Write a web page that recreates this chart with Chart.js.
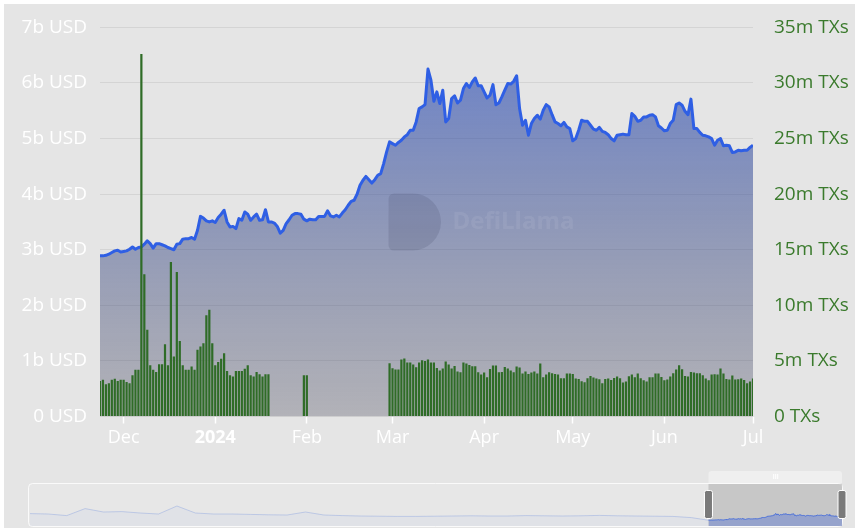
<!DOCTYPE html>
<html>
<head>
<meta charset="utf-8">
<script src="https://cdn.jsdelivr.net/npm/chart.js@4.4.1/dist/chart.umd.min.js"></script>
<style>
  html, body { margin: 0; padding: 0; background: #ffffff; }
  #panel { position: absolute; left: 4px; top: 4px; width: 851px; height: 524px; background: #e5e5e5; }
  #tvlChart { position: absolute; left: 0; top: -5px; }
  #navChart { position: absolute; left: 0; top: 468px; }
</style>
</head>
<body>
<div id="panel"></div>
<canvas id="tvlChart" width="859" height="475"></canvas>
<canvas id="navChart" width="859" height="62"></canvas>
<script>
// daily points, 23 Nov 2023 .. 1 Jul 2024 (index = day)
const monthTicks = [8, 39, 70, 99, 130, 160, 191, 221];
const monthLabels = ['Dec', '2024', 'Feb', 'Mar', 'Apr', 'May', 'Jun', 'Jul'];

// TVL, billions USD
const tvl = [
  2.89, 2.89, 2.90, 2.92, 2.95, 2.98, 2.99, 2.96, 2.97, 2.98,
  3.01, 3.05, 3.01, 3.04, 3.05, 3.10, 3.16, 3.11, 3.03, 3.11,
  3.11, 3.09, 3.07, 3.04, 3.02, 3.00, 3.10, 3.11, 3.19, 3.20,
  3.20, 3.22, 3.19, 3.35, 3.60, 3.57, 3.52, 3.50, 3.52, 3.49,
  3.58, 3.64, 3.71, 3.50, 3.41, 3.42, 3.38, 3.56, 3.53, 3.68,
  3.64, 3.53, 3.59, 3.64, 3.53, 3.54, 3.72, 3.50, 3.50, 3.48,
  3.42, 3.30, 3.35, 3.47, 3.54, 3.62, 3.65, 3.65, 3.64, 3.55,
  3.52, 3.55, 3.54, 3.54, 3.60, 3.60, 3.60, 3.70, 3.61, 3.59,
  3.62, 3.59, 3.66, 3.72, 3.80, 3.87, 3.89, 4.00, 4.16, 4.25,
  4.32, 4.26, 4.20, 4.26, 4.34, 4.37, 4.55, 4.76, 4.94, 4.91,
  4.88, 4.93, 4.97, 5.03, 5.07, 5.15, 5.15, 5.30, 5.54, 5.57,
  5.61, 6.25, 6.05, 5.67, 5.84, 5.63, 5.87, 5.30, 5.36, 5.72,
  5.77, 5.64, 5.69, 5.90, 5.99, 5.92, 6.02, 6.09, 5.95, 5.95,
  5.84, 5.73, 5.78, 5.97, 5.61, 5.64, 5.75, 5.87, 5.99, 5.98,
  6.03, 6.13, 5.54, 5.24, 5.33, 5.06, 5.27, 5.36, 5.42, 5.35,
  5.51, 5.61, 5.57, 5.43, 5.30, 5.27, 5.23, 5.29, 5.21, 5.18,
  4.96, 5.00, 5.15, 5.33, 5.31, 5.31, 5.24, 5.17, 5.15, 5.20,
  5.13, 5.11, 5.07, 5.00, 4.96, 5.06, 5.07, 5.08, 5.07, 5.07,
  5.45, 5.40, 5.31, 5.33, 5.39, 5.39, 5.42, 5.43, 5.39, 5.23,
  5.19, 5.14, 5.15, 5.27, 5.33, 5.61, 5.64, 5.60, 5.49, 5.43,
  5.71, 5.18, 5.18, 5.11, 5.06, 5.05, 5.03, 5.00, 4.88, 4.97,
  5.00, 4.87, 4.88, 4.87, 4.75, 4.76, 4.79, 4.78, 4.79, 4.79,
  4.84, 4.88
];

// transactions, millions (null = no data that day)
const txs = [
  3.2, 3.3, 2.9, 3.0, 3.3, 3.4, 3.2, 3.3, 3.3, 3.1,
  3.0, 3.7, 4.2, 4.2, 32.6, 12.8, 7.8, 4.6, 4.2, 4.0,
  4.7, 4.7, 6.5, 4.6, 13.9, 5.4, 13.0, 6.8, 4.6, 4.2,
  4.2, 4.5, 4.2, 6.0, 6.3, 6.6, 9.1, 9.6, 6.6, 4.6,
  4.9, 5.2, 5.7, 4.1, 3.7, 3.6, 4.1, 4.1, 4.1, 4.3,
  4.6, 3.7, 3.6, 4.0, 3.8, 3.6, 3.8, 3.8,
  null, null, null, null, null, null, null, null, null, null, null,
  3.7, 3.7,
  null, null, null, null, null, null, null, null, null,
  null, null, null, null, null, null, null, null, null,
  null, null, null, null, null, null, null, null, null,
  4.79, 4.34, 4.22, 4.22, 5.12, 5.21, 4.85, 4.85, 4.67, 4.43,
  4.85, 5.06, 5.00, 5.12, 4.85, 4.85, 4.37, 4.13, 4.31, 4.94,
  4.67, 4.31, 4.55, 4.04, 3.98, 4.85, 4.76, 4.64, 4.52, 4.52,
  3.98, 3.77, 3.95, 3.53, 4.28, 4.58, 4.58, 3.98, 4.01, 4.46,
  4.31, 4.13, 3.98, 4.49, 4.40, 3.86, 4.04, 3.83, 3.95, 4.04,
  3.86, 4.76, 3.53, 3.77, 3.98, 3.89, 3.83, 3.77, 3.44, 3.44,
  3.86, 3.86, 3.83, 3.41, 3.38, 3.17, 3.08, 3.44, 3.65, 3.50,
  3.41, 3.35, 2.99, 3.38, 3.41, 3.29, 3.47, 3.59, 3.44, 3.05,
  3.14, 3.62, 3.77, 3.53, 3.86, 3.44, 3.26, 3.14, 3.53, 3.53,
  3.86, 3.86, 3.56, 3.26, 3.32, 3.59, 3.89, 4.22, 4.61, 4.25,
  3.65, 3.59, 4.01, 3.95, 3.89, 3.89, 3.71, 3.41, 3.26, 3.77,
  3.80, 3.77, 4.31, 3.86, 3.38, 3.32, 3.68, 3.32, 3.35, 3.41,
  3.29, 2.99, 3.14, 3.41
];

// longer TVL history for the range navigator, one value a month (b USD)
const navHistory = [
  6.2, 6.0, 5.2, 8.7, 7.0, 7.2, 6.5, 6.0, 10.0, 6.5,
  6.0, 6.0, 5.8, 5.6, 5.5, 7.0, 5.5, 5.2, 5.0, 4.9,
  4.8, 4.8, 4.9, 5.0, 5.1, 5.0, 5.0, 5.2, 5.1, 5.0,
  5.1, 5.3, 5.1, 5.0, 4.9, 4.8, 4.2
];
const navOffset = 1123; // day where the zoomed range starts

const FONT = '"Open Sans", "Noto Sans", sans-serif';

// logo + name in the middle of the plot
const watermark = {
    id: 'watermark',
    afterDatasetsDraw(chart) {
        const a = chart.chartArea;
        const c = chart.ctx;
        const cx = (a.left + a.right) / 2;
        const lx = cx - 38, ly = a.top + 166, h = 57;
        c.save();
        c.fillStyle = 'rgba(60,66,95,0.17)';
        c.beginPath();
        c.moveTo(lx + 6, ly);
        c.lineTo(lx + 24, ly);
        c.arc(lx + 24, ly + h / 2, h / 2, -Math.PI / 2, Math.PI / 2);
        c.lineTo(lx + 6, ly + h);
        c.quadraticCurveTo(lx, ly + h, lx, ly + h - 6);
        c.lineTo(lx, ly + 6);
        c.quadraticCurveTo(lx, ly, lx + 6, ly);
        c.fill();
        c.fillStyle = 'rgba(255,255,255,0.07)';
        c.font = 'bold 24px ' + FONT;
        c.textBaseline = 'middle';
        c.fillText('DefiLlama', lx + 64, ly + 29);
        c.restore();
    }
};

new Chart(document.getElementById('tvlChart').getContext('2d'), {
    type: 'bar',
    data: {
        datasets: [
            {
                type: 'bar', label: 'Transactions', yAxisID: 'yTx', order: 0,
                data: txs.map((v, i) => ({ x: i, y: v })),
                backgroundColor: '#2f6c27', barPercentage: 1, categoryPercentage: 0.75
            },
            {
                type: 'line', label: 'TVL', yAxisID: 'yTvl', order: 1,
                data: tvl.map((v, i) => ({ x: i, y: v })),
                borderColor: '#2f5fe4', borderWidth: 3, pointRadius: 0, tension: 0,
                borderJoinStyle: 'round', fill: 'origin',
                backgroundColor: c => {
                    const a = c.chart.chartArea;
                    if (!a) return 'rgba(30,70,180,0.5)';
                    const g = c.chart.ctx.createLinearGradient(0, a.top, 0, a.bottom);
                    g.addColorStop(0, 'rgba(30,70,190,0.64)');
                    g.addColorStop(1, 'rgba(60,60,80,0.3)');
                    return g;
                }
            }
        ]
    },
    options: {
        responsive: false, animation: false, events: [],
        layout: { padding: { top: 22, left: 0, right: 0, bottom: 0 } },
        plugins: { legend: { display: false }, tooltip: { enabled: false } },
        scales: {
            x: {
                type: 'linear', min: 0, max: 221, offset: false,
                grid: { offset: false, drawOnChartArea: false, drawTicks: true, tickLength: 7, tickColor: '#ffffff', tickWidth: 1.5 },
                border: { display: false },
                afterBuildTicks: s => { s.ticks = monthTicks.map(v => ({ value: v })); },
                afterFit: s => { s.height = 53.5; },
                ticks: {
                    color: '#ffffff', padding: 4, maxRotation: 0, autoSkip: false,
                    font: c => ({ family: FONT, size: 18, weight: monthLabels[c.index] === '2024' ? 'bold' : 'normal' }),
                    callback: (v, i) => monthLabels[i]
                }
            },
            yTvl: {
                position: 'left', min: 0, max: 7, z: 1,
                grid: { color: 'rgba(0,0,0,0.07)', drawTicks: false },
                border: { display: false },
                afterFit: s => { s.width = 100; },
                ticks: {
                    stepSize: 1, color: '#ffffff', padding: 13, font: { family: FONT, size: 19 },
                    callback: v => v === 0 ? '0 USD' : v + 'b USD'
                }
            },
            yTx: {
                position: 'right', min: 0, max: 35,
                grid: { drawOnChartArea: false, drawTicks: false },
                border: { display: false },
                afterFit: s => { s.width = 106; },
                ticks: {
                    stepSize: 5, color: '#3a7a2c', padding: 21, font: { family: FONT, size: 19 },
                    callback: v => v === 0 ? '0 TXs' : v + 'm TXs'
                }
            }
        }
    },
    plugins: [watermark]
});

// range navigator frame, selection and handles
const navFrame = {
    id: 'navFrame',
    beforeDatasetsDraw(chart) {
        const a = chart.chartArea, c = chart.ctx;
        const x0 = chart.scales.x.getPixelForValue(navOffset);
        c.save();
        c.fillStyle = 'rgba(255,255,255,0.1)';
        c.strokeStyle = 'rgba(255,255,255,0.8)';
        c.lineWidth = 1;
        c.beginPath();
        c.roundRect(a.left - 1.5, a.top + 0.5, a.right - a.left + 2, a.bottom - a.top, 4);
        c.fill();
        c.stroke();
        c.fillStyle = 'rgba(160,160,160,0.45)';
        c.fillRect(x0, a.top + 1, a.right - x0, a.bottom - a.top - 1);
        c.restore();
    },
    afterDatasetsDraw(chart) {
        const a = chart.chartArea, c = chart.ctx;
        const x0 = chart.scales.x.getPixelForValue(navOffset);
        const x1 = a.right;
        const my = (a.top + a.bottom) / 2;
        c.save();
        c.fillStyle = 'rgba(240,240,240,0.9)';
        c.beginPath();
        c.roundRect(x0, a.top - 12, x1 - x0, 12, [3, 3, 0, 0]);
        c.fill();
        c.strokeStyle = '#ffffff';
        c.lineWidth = 1;
        const mx = (x0 + x1) / 2;
        [-2, 0, 2].forEach(d => {
            c.beginPath();
            c.moveTo(mx + d + 0.5, a.top - 9);
            c.lineTo(mx + d + 0.5, a.top - 4);
            c.stroke();
        });
        [x0, x1].forEach(x => {
            c.fillStyle = '#7a7a7a';
            c.beginPath();
            c.roundRect(x - 4, my - 14, 8, 28, 2);
            c.fill();
            c.stroke();
        });
        c.restore();
    }
};

new Chart(document.getElementById('navChart').getContext('2d'), {
    type: 'line',
    data: {
        datasets: [
            {
                data: navHistory.map((v, m) => ({ x: m * 30.4, y: v })).concat([{ x: navOffset, y: tvl[0] }]),
                borderColor: 'rgba(140,165,225,0.45)', borderWidth: 1, pointRadius: 0,
                fill: 'origin', backgroundColor: 'rgba(160,180,230,0.1)'
            },
            {
                data: tvl.map((v, i) => ({ x: navOffset + i, y: v })),
                borderColor: '#4a6fd8', borderWidth: 1, pointRadius: 0,
                fill: 'origin', backgroundColor: 'rgba(90,120,210,0.45)'
            }
        ]
    },
    options: {
        responsive: false, animation: false, events: [],
        layout: { padding: { left: 30, right: 17, top: 15, bottom: 4 } },
        plugins: { legend: { display: false }, tooltip: { enabled: false } },
        scales: {
            x: { type: 'linear', display: false, min: 0, max: navOffset + tvl.length - 1 },
            y: { display: false, min: 0, max: 21.5 }
        }
    },
    plugins: [navFrame]
});
</script>
</body>
</html>
